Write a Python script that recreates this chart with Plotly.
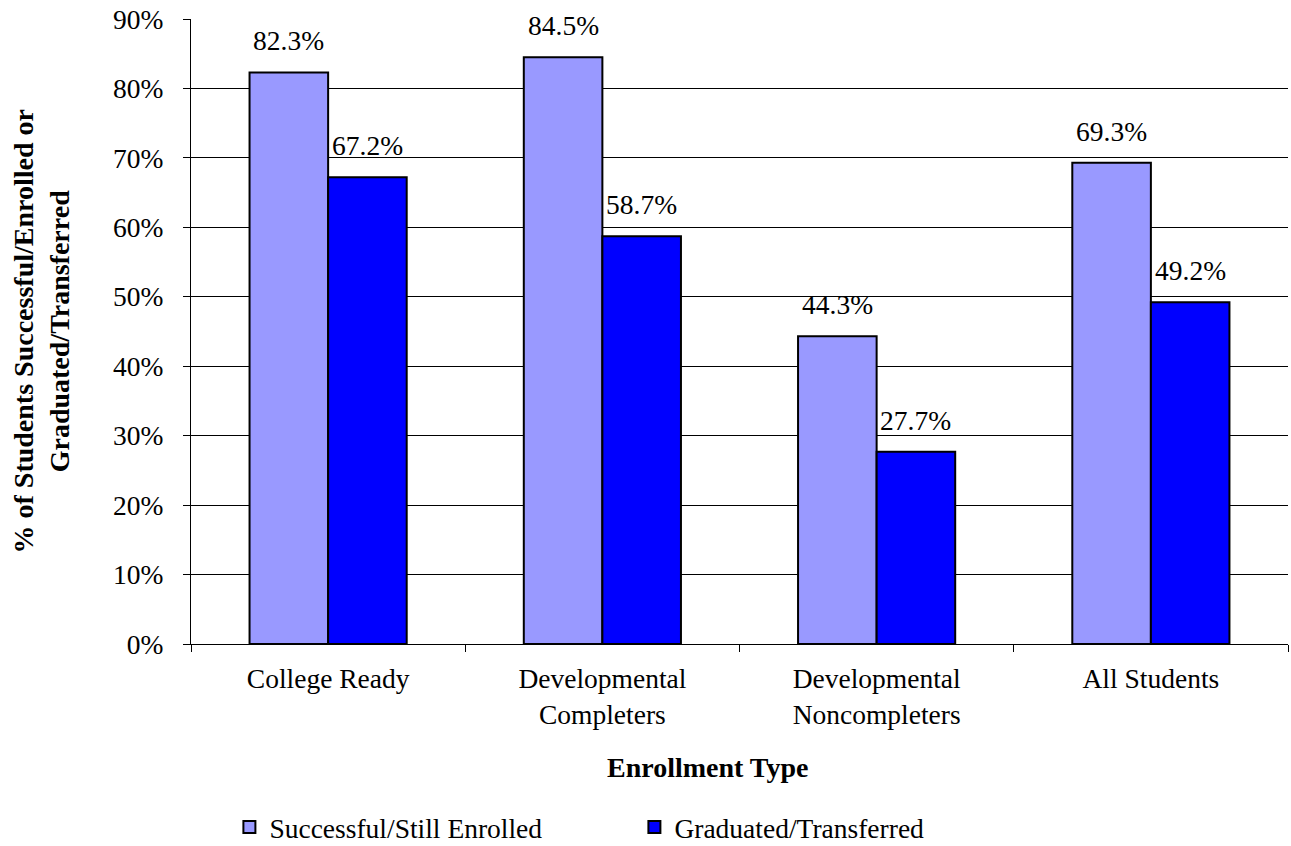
import plotly.graph_objects as go

categories = ["College Ready", "Developmental<br>Completers", "Developmental<br>Noncompleters", "All Students"]
successful_still_enrolled = [82.3, 84.5, 44.3, 69.3]
graduated_transferred = [67.2, 58.7, 27.7, 49.2]
y_ticks = [0, 10, 20, 30, 40, 50, 60, 70, 80, 90]
y_tick_labels = [f"{v}%" for v in y_ticks]

FONT = "Liberation Serif"
SIZE = 27.5
LIGHT = "#9999FF"
DARK = "#0000FF"

fig = go.Figure()
fig.add_trace(go.Bar(
    name="Successful/Still Enrolled", x=categories, y=successful_still_enrolled,
    marker=dict(color=LIGHT, line=dict(color="black", width=2)),
))
fig.add_trace(go.Bar(
    name="Graduated/Transferred", x=categories, y=graduated_transferred,
    marker=dict(color=DARK, line=dict(color="black", width=2)),
))

# value labels above each bar
bar_half = (1 - 0.427) / 4
annotations = []
for i, (a, b) in enumerate(zip(successful_still_enrolled, graduated_transferred)):
    for val, off in ((a, -bar_half), (b, bar_half)):
        annotations.append(dict(
            x=i + off, y=val, xref="x", yref="y", text=f"{val:.1f}%",
            showarrow=False, yanchor="bottom", yshift=14,
            font=dict(family=FONT, size=SIZE, color="black"),
        ))

annotations.append(dict(
    text="<b>% of Students Successful/Enrolled or<br>Graduated/Transferred</b>",
    xref="paper", yref="paper", x=0, y=0.5, xshift=-150, textangle=-90,
    xanchor="center", yanchor="middle", showarrow=False,
    font=dict(family=FONT, size=28, color="black"),
))
annotations.append(dict(
    text="<b>Enrollment Type</b>", xref="paper", yref="paper", x=0.5, y=0,
    xshift=-32, yshift=-123, xanchor="center", yanchor="middle", showarrow=False,
    font=dict(family=FONT, size=28, color="black"),
))

fig.update_layout(
    width=1291, height=846,
    margin=dict(l=191, r=3, t=19, b=202, autoexpand=False),
    paper_bgcolor="white", plot_bgcolor="white",
    barmode="group", bargap=0.427, bargroupgap=0,
    font=dict(family=FONT, size=SIZE, color="black"),
    annotations=annotations,
    showlegend=True,
    legend=dict(
        orientation="h", x=0.035, y=-0.293, xanchor="left", yanchor="middle",
        entrywidth=360, entrywidthmode="pixels", itemwidth=30,
        font=dict(family=FONT, size=SIZE, color="black"),
    ),
)
fig.update_yaxes(
    range=[0, 90], tickvals=y_ticks, ticktext=y_tick_labels,
    showgrid=True, gridcolor="black", gridwidth=1,
    showline=True, linecolor="black", linewidth=1,
    ticks="outside", ticklen=7, tickcolor="black", ticklabelstandoff=14,
    zeroline=False,
)
fig.update_xaxes(
    showline=True, linecolor="black", linewidth=1,
    ticks="outside", ticklen=7, tickcolor="black", tickson="boundaries",
    ticklabelstandoff=10, showgrid=False,
)

fig.write_html("out.html")
